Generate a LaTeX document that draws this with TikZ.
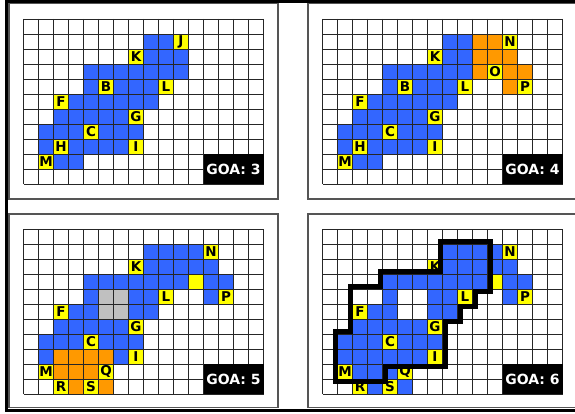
\documentclass[tikz,border=0pt]{standalone}
\usepackage{fontspec}
\setsansfont{DejaVu Sans}
\definecolor{cblue}{HTML}{3366FF}
\definecolor{corange}{HTML}{FF9900}
\definecolor{cyel}{HTML}{FFFF00}
\definecolor{cgray}{HTML}{C0C0C0}
\definecolor{cframe}{HTML}{555555}
\newcommand\brow[3]{\foreach \c in {#2} {\fill[#1] ({\c*15},{#3*15}) rectangle ++(15,15);}}
\newcommand\labc[4]{\node[lbl] (#1#4) at ({#2*15+7.5},{#3*15+7.5}) {#4};}
\newcommand\gridlines{%
  \foreach \i in {0,...,16} {\draw[gl] ({\i*15},0) -- ({\i*15},165);}
  \foreach \j in {0,...,11} {\draw[gl] (0,{\j*15}) -- (240,{\j*15});}}
\tikzset{
  gl/.style={draw=black!85, line width=0.9pt},
  lbl/.style={fill=cyel, minimum size=15pt, inner sep=0pt, text=black,
    font=\sffamily\bfseries\fontsize{13.5}{13.5}\selectfont},
  goa/.style={fill=black, minimum width=60pt, minimum height=30pt, inner sep=0pt,
    text=white, font=\sffamily\bfseries\fontsize{14}{14}\selectfont},
  frame/.style={draw=cframe, line width=1.3pt},
  outline/.style={draw=black, line width=5pt, line join=miter}
}
\begin{document}
\begin{tikzpicture}[x=1pt,y=-1pt]
\useasboundingbox (0,0) rectangle (575,414);
\fill[white] (0,0) rectangle (575,414);
% panel frames
\draw[frame] (9,3.5) rectangle (278,199);
\draw[frame] (308,3.5) rectangle (580,199);
\draw[frame] (9,214) rectangle (278,407.5);
\draw[frame] (308,214) rectangle (580,407.5);
% outer border
\draw[line width=3pt] (6.2,1.8) rectangle (600,410.5);

% ---------------- panel 1
\begin{scope}[shift={(23.5,19)}]
\brow{cblue}{8,9}{1}
\brow{cblue}{8,9,10}{2}
\brow{cblue}{4,...,10}{3}
\brow{cblue}{4,6,7,8}{4}
\brow{cblue}{3,...,8}{5}
\brow{cblue}{2,...,6}{6}
\brow{cblue}{1,...,7}{7}
\brow{cblue}{1,3,4,5,6}{8}
\brow{cblue}{2,3}{9}
\labc{p1}{10}{1}{J}
\labc{p1}{7}{2}{K}
\labc{p1}{5}{4}{B}
\labc{p1}{9}{4}{L}
\labc{p1}{2}{5}{F}
\labc{p1}{7}{6}{G}
\labc{p1}{4}{7}{C}
\labc{p1}{2}{8}{H}
\labc{p1}{7}{8}{I}
\labc{p1}{1}{9}{M}
\gridlines
\node[goa] (p1goa) at (210,150) {GOA: 3};
\end{scope}

% ---------------- panel 2
\begin{scope}[shift={(322.5,19)}]
\brow{cblue}{8,9}{1}
\brow{cblue}{8,9}{2}
\brow{cblue}{4,...,9}{3}
\brow{cblue}{4,6,7,8}{4}
\brow{cblue}{3,...,8}{5}
\brow{cblue}{2,...,6}{6}
\brow{cblue}{1,...,7}{7}
\brow{cblue}{1,3,4,5,6}{8}
\brow{cblue}{2,3}{9}
\brow{corange}{10,11}{1}
\brow{corange}{10,11,12}{2}
\brow{corange}{10,12,13}{3}
\brow{corange}{12}{4}
\labc{p2}{12}{1}{N}
\labc{p2}{11}{3}{O}
\labc{p2}{13}{4}{P}
\labc{p2}{7}{2}{K}
\labc{p2}{5}{4}{B}
\labc{p2}{9}{4}{L}
\labc{p2}{2}{5}{F}
\labc{p2}{7}{6}{G}
\labc{p2}{4}{7}{C}
\labc{p2}{2}{8}{H}
\labc{p2}{7}{8}{I}
\labc{p2}{1}{9}{M}
\gridlines
\node[goa] (p2goa) at (210,150) {GOA: 4};
\end{scope}

% ---------------- panel 3
\begin{scope}[shift={(23.5,229)}]
\brow{cblue}{8,...,11}{1}
\brow{cblue}{8,...,12}{2}
\brow{cblue}{4,...,10,12,13}{3}
\brow{cyel}{11}{3}
\brow{cblue}{4,7,8,12}{4}
\brow{cblue}{3,4,7,8}{5}
\brow{cgray}{5,6}{4}
\brow{cgray}{5,6}{5}
\brow{cblue}{2,...,6}{6}
\brow{cblue}{1,...,7}{7}
\brow{cblue}{1,6}{8}
\brow{corange}{2,...,5}{8}
\brow{corange}{2,3,4}{9}
\brow{corange}{3,5}{10}
\labc{p3}{12}{1}{N}
\labc{p3}{7}{2}{K}
\labc{p3}{9}{4}{L}
\labc{p3}{13}{4}{P}
\labc{p3}{2}{5}{F}
\labc{p3}{7}{6}{G}
\labc{p3}{4}{7}{C}
\labc{p3}{7}{8}{I}
\labc{p3}{1}{9}{M}
\labc{p3}{5}{9}{Q}
\labc{p3}{2}{10}{R}
\labc{p3}{4}{10}{S}
\gridlines
\node[goa] (p3goa) at (210,150) {GOA: 5};
\end{scope}

% ---------------- panel 4
\begin{scope}[shift={(322.5,229)}]
\brow{cblue}{8,...,11}{1}
\brow{cblue}{8,...,12}{2}
\brow{cblue}{4,...,10,12,13}{3}
\brow{cyel}{11}{3}
\brow{cblue}{4,7,8,12}{4}
\brow{cblue}{3,4,7,8}{5}
\brow{cblue}{2,...,6}{6}
\brow{cblue}{1,...,7}{7}
\brow{cblue}{1,...,6}{8}
\brow{cblue}{2,3,4}{9}
\brow{cblue}{3,5}{10}
\labc{p4}{12}{1}{N}
\labc{p4}{7}{2}{K}
\labc{p4}{9}{4}{L}
\labc{p4}{13}{4}{P}
\labc{p4}{2}{5}{F}
\labc{p4}{7}{6}{G}
\labc{p4}{4}{7}{C}
\labc{p4}{7}{8}{I}
\labc{p4}{1}{9}{M}
\labc{p4}{5}{9}{Q}
\labc{p4}{2}{10}{R}
\labc{p4}{4}{10}{S}
\gridlines
\node[goa] (p4goa) at (210,150) {GOA: 6};
\def\d{2.5}
\draw[outline] ({8*15-\d},{1*15-\d}) -- ({11*15+\d},{1*15-\d}) -- ({11*15+\d},{4*15+\d})
  -- ({10*15+\d},{4*15+\d}) -- ({10*15+\d},{5*15+\d}) -- ({9*15+\d},{5*15+\d})
  -- ({9*15+\d},{6*15+\d}) -- ({8*15+\d},{6*15+\d}) -- ({8*15+\d},{9*15+\d})
  -- ({4*15+\d},{9*15+\d}) -- ({4*15+\d},{10*15+\d}) -- ({1*15-\d},{10*15+\d})
  -- ({1*15-\d},{7*15-\d}) -- ({2*15-\d},{7*15-\d}) -- ({2*15-\d},{4*15-\d})
  -- ({4*15-\d},{4*15-\d}) -- ({4*15-\d},{3*15-\d}) -- ({8*15-\d},{3*15-\d}) -- cycle;
\end{scope}
\end{tikzpicture}
\end{document}
